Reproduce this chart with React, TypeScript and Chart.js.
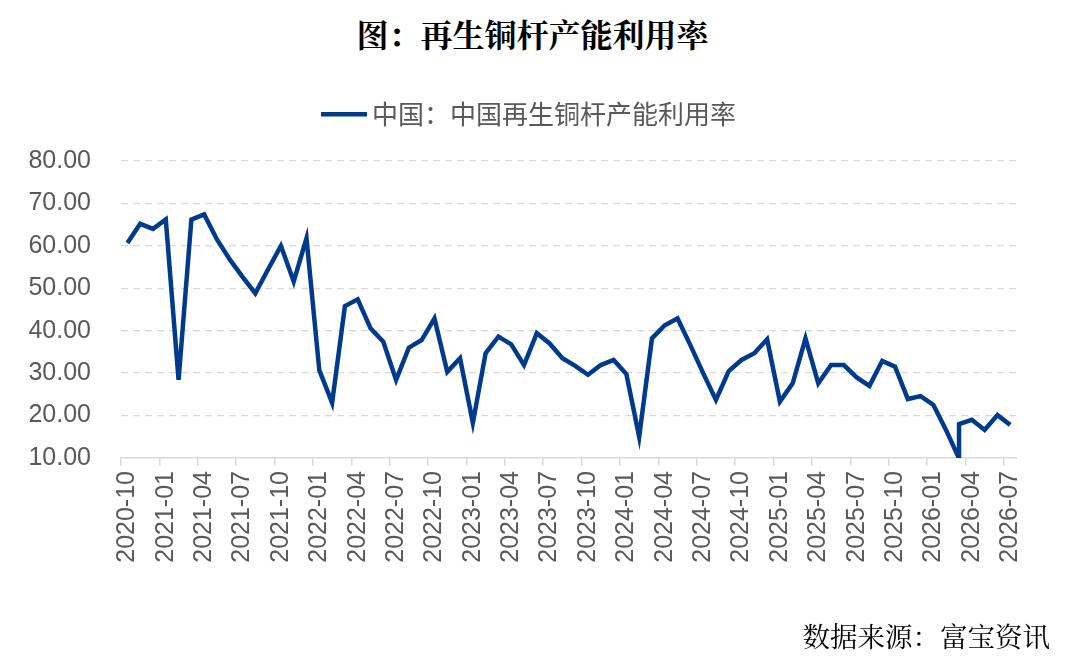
import { useEffect, useRef } from 'react'
import { Chart, registerables } from 'chart.js'

Chart.register(...registerables)

const months = [
  '2020-10', '2020-11', '2020-12',
  '2021-01', '2021-02', '2021-03', '2021-04', '2021-05', '2021-06',
  '2021-07', '2021-08', '2021-09', '2021-10', '2021-11', '2021-12',
  '2022-01', '2022-02', '2022-03', '2022-04', '2022-05', '2022-06',
  '2022-07', '2022-08', '2022-09', '2022-10', '2022-11', '2022-12',
  '2023-01', '2023-02', '2023-03', '2023-04', '2023-05', '2023-06',
  '2023-07', '2023-08', '2023-09', '2023-10', '2023-11', '2023-12',
  '2024-01', '2024-02', '2024-03', '2024-04', '2024-05', '2024-06',
  '2024-07', '2024-08', '2024-09', '2024-10', '2024-11', '2024-12',
  '2025-01', '2025-02', '2025-03', '2025-04', '2025-05', '2025-06',
  '2025-07', '2025-08', '2025-09', '2025-10', '2025-11', '2025-12',
  '2026-01', '2026-02', '2026-03', '2026-04', '2026-05', '2026-06',
  '2026-07',
]

// 中国再生铜杆产能利用率 (%)
const utilization = [
  60.7, 65.2, 64.0,
  66.2, 28.4, 66.2, 67.4, 61.5, 56.8,
  52.7, 48.8, 54.5, 60.0, 51.6, 61.8,
  30.7, 23.0, 45.8, 47.4, 40.6, 37.4,
  28.4, 36.0, 37.8, 42.9, 30.3, 33.5,
  18.3, 34.7, 38.6, 36.8, 31.9, 39.4,
  37.0, 33.5, 31.7, 29.6, 31.9, 33.1,
  29.8, 15.0, 38.2, 41.3, 42.9, 36.6,
  30.0, 23.7, 30.5, 33.1, 34.7, 38.0,
  23.3, 27.6, 38.2, 27.6, 31.9, 31.9,
  29.0, 27.0, 32.9, 31.5, 23.9, 24.6,
  22.5, 16.5, 18.0, 19.0, 16.6, 20.1,
  17.8,
]

// the source has two readings in 2026-03: a low one before the 18.0 one
const extraMonth = '2026-03'
const extraValue = 9.9

const yTicks = [10, 20, 30, 40, 50, 60, 70, 80]

const seriesName = '中国：中国再生铜杆产能利用率'
const titleText = '图：再生铜杆产能利用率'
const sourceText = '数据来源：富宝资讯'

const lineColor = '#003A8C'
const gridColor = '#d9d9d9'
const labelColor = '#595959'

function buildPoints() {
  const pts: { x: string; y: number }[] = []
  months.forEach((m, i) => {
    if (m === extraMonth) pts.push({ x: m, y: extraValue })
    pts.push({ x: m, y: utilization[i] })
  })
  return pts
}

// legend swatch: a 46px line, wider than the 30px box so the text sits close to it
function legendSwatch() {
  const c = document.createElement('canvas')
  c.width = 46
  c.height = 6
  const g = c.getContext('2d')
  if (g) {
    g.fillStyle = lineColor
    g.fillRect(0, 1, 46, 4.5)
  }
  return c
}

const legendGap = {
  id: 'legendGap',
  beforeInit(chart: any) {
    const fit = chart.legend.fit
    chart.legend.fit = function () {
      fit.bind(chart.legend)()
      this.height += 24
    }
  },
}

function UtilizationChart() {
  const chartRef = useRef<HTMLCanvasElement>(null)

  useEffect(() => {
    if (!chartRef.current) return
    const ctx = chartRef.current.getContext('2d')
    if (!ctx) return

    const chart = new Chart(ctx, {
      type: 'line',
      data: {
        labels: months,
        datasets: [{
          label: seriesName,
          data: buildPoints() as any,
          borderColor: lineColor,
          backgroundColor: lineColor,
          borderWidth: 4.5,
          pointRadius: 0,
          pointHoverRadius: 0,
          tension: 0,
          fill: false,
          clip: 0 as any,
        }],
      },
      options: {
        animation: false,
        responsive: true,
        maintainAspectRatio: false,
        layout: { padding: { top: 91, left: 0, right: 0, bottom: 0 } },
        plugins: {
          title: { display: false },
          tooltip: { enabled: false },
          legend: {
            display: true,
            position: 'top',
            labels: {
              usePointStyle: true,
              pointStyle: legendSwatch() as any,
              pointStyleWidth: 30,
              color: labelColor,
              padding: 10,
              font: { family: '"Noto Sans CJK SC", sans-serif', size: 26 },
            },
          },
        },
        scales: {
          x: {
            type: 'category',
            offset: true,
            afterFit: (s: any) => { s.height = 199 },
            grid: {
              offset: true,
              drawOnChartArea: false,
              drawTicks: true,
              tickLength: 8,
              lineWidth: 1.5,
              color: (c: any) => (c.index !== undefined && c.index % 3 === 0 ? gridColor : 'rgba(0,0,0,0)'),
            },
            border: { display: true, color: gridColor, width: 1.5 },
            ticks: {
              autoSkip: false,
              maxRotation: 90,
              minRotation: 90,
              padding: 5,
              color: labelColor,
              font: { family: '"Liberation Sans", Arial, sans-serif', size: 25 },
              callback: (_v: any, i: number) => (i % 3 === 0 ? months[i] : ''),
            },
          },
          y: {
            min: yTicks[0],
            max: yTicks[yTicks.length - 1],
            afterFit: (s: any) => { s.width = 121 },
            afterBuildTicks: (s: any) => { s.ticks = yTicks.map((v) => ({ value: v })) },
            grid: {
              drawTicks: false,
              lineWidth: 1.3,
              color: (c: any) => (c.tick && c.tick.value === yTicks[0] ? 'rgba(0,0,0,0)' : gridColor),
            },
            border: { display: false, dash: [7, 5] },
            ticks: {
              padding: 30,
              color: labelColor,
              font: { family: '"Liberation Sans", Arial, sans-serif', size: 25 },
              callback: (v: any) => Number(v).toFixed(2),
            },
          },
          yRight: {
            type: 'linear',
            position: 'right',
            display: true,
            afterFit: (s: any) => { s.width = 48.4 },
            grid: { display: false },
            border: { display: false },
            ticks: { display: false },
          },
        },
      },
      plugins: [legendGap],
    })

    return () => chart.destroy()
  }, [])

  return <canvas ref={chartRef} />
}

export default function App() {
  return (
    <div style={{ position: 'fixed', left: 0, top: 0, width: 1065, height: 657, background: '#fff' }}>
      <div
        style={{
          position: 'absolute', left: 0, top: 14, width: 1065, textAlign: 'center',
          fontFamily: '"Noto Serif CJK SC", "Noto Sans CJK SC", serif', fontWeight: 'bold',
          fontSize: 32, lineHeight: '38px', color: '#000',
        }}
      >
        {titleText}
      </div>
      <div style={{ position: 'absolute', left: 0, top: 0, width: 1065, height: 657 }}>
        <UtilizationChart />
      </div>
      <div
        style={{
          position: 'absolute', right: 15, top: 618,
          fontFamily: '"Noto Serif CJK SC", "Noto Sans CJK SC", serif',
          fontSize: 27.5, lineHeight: '34px', color: '#000',
        }}
      >
        {sourceText}
      </div>
    </div>
  )
}
